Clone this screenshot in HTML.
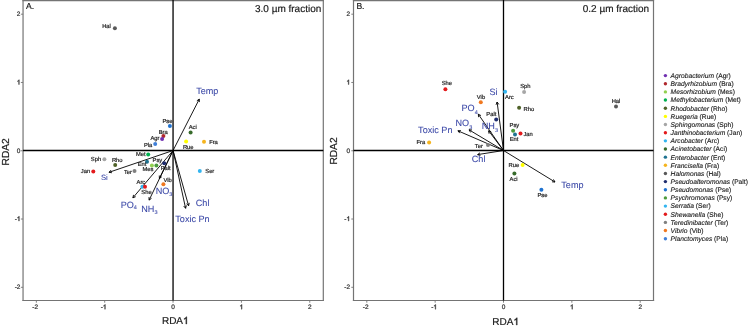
<!DOCTYPE html>
<html><head><meta charset="utf-8"><style>
html,body{margin:0;padding:0;background:#fff;}
body{width:748px;height:326px;overflow:hidden;font-family:"Liberation Sans", sans-serif;}
svg{display:block;will-change:transform;}
</style></head><body>
<svg width="748" height="326" viewBox="0 0 748 326" font-family='"Liberation Sans", sans-serif' text-rendering='geometricPrecision'>
<rect width="748" height="326" fill="#fff"/>
<g stroke="#747474" stroke-width="1.2"><line x1="22.45" y1="0.6" x2="323.90000000000003" y2="0.6"/><line x1="22.45" y1="300.5" x2="323.90000000000003" y2="300.5"/><line x1="23.05" y1="0" x2="23.05" y2="301.1"/><line x1="323.3" y1="0" x2="323.3" y2="301.1"/></g>
<line x1="20.85" y1="287.31" x2="23.05" y2="287.31" stroke="#747474" stroke-width="0.9"/>
<text x="14.670" y="289.310" font-size="6.5" fill="#333" stroke="#333" stroke-width="0.22">-</text><text x="16.835" y="289.310" font-size="6.5" fill="#333" stroke="#333" stroke-width="0.22">2</text>
<line x1="36.35" y1="300.5" x2="36.35" y2="302.7" stroke="#747474" stroke-width="0.9"/>
<text x="32.360" y="309.200" font-size="6.5" fill="#333" stroke="#333" stroke-width="0.22">-</text><text x="34.525" y="309.200" font-size="6.5" fill="#333" stroke="#333" stroke-width="0.22">2</text>
<line x1="20.85" y1="219.03" x2="23.05" y2="219.03" stroke="#747474" stroke-width="0.9"/>
<text x="14.670" y="221.030" font-size="6.5" fill="#333" stroke="#333" stroke-width="0.22">-</text><path d="M763 0L583 0L583 1147Q518 1085 412 1023Q306 961 222 930L222 1104Q373 1175 486 1276Q599 1377 646 1472L763 1472Z" transform="translate(16.835,221.030) scale(0.003174,-0.003174)" fill="#333" stroke="#333" stroke-width="132.3" stroke-linejoin="round"/>
<line x1="104.70" y1="300.5" x2="104.70" y2="302.7" stroke="#747474" stroke-width="0.9"/>
<text x="100.710" y="309.200" font-size="6.5" fill="#333" stroke="#333" stroke-width="0.22">-</text><path d="M763 0L583 0L583 1147Q518 1085 412 1023Q306 961 222 930L222 1104Q373 1175 486 1276Q599 1377 646 1472L763 1472Z" transform="translate(102.875,309.200) scale(0.003174,-0.003174)" fill="#333" stroke="#333" stroke-width="132.3" stroke-linejoin="round"/>
<line x1="20.85" y1="150.75" x2="23.05" y2="150.75" stroke="#747474" stroke-width="0.9"/>
<text x="16.835" y="152.750" font-size="6.5" fill="#333" stroke="#333" stroke-width="0.22">0</text>
<line x1="173.05" y1="300.5" x2="173.05" y2="302.7" stroke="#747474" stroke-width="0.9"/>
<text x="171.243" y="309.200" font-size="6.5" fill="#333" stroke="#333" stroke-width="0.22">0</text>
<line x1="20.85" y1="82.47" x2="23.05" y2="82.47" stroke="#747474" stroke-width="0.9"/>
<path d="M763 0L583 0L583 1147Q518 1085 412 1023Q306 961 222 930L222 1104Q373 1175 486 1276Q599 1377 646 1472L763 1472Z" transform="translate(16.835,84.470) scale(0.003174,-0.003174)" fill="#333" stroke="#333" stroke-width="132.3" stroke-linejoin="round"/>
<line x1="241.40" y1="300.5" x2="241.40" y2="302.7" stroke="#747474" stroke-width="0.9"/>
<path d="M763 0L583 0L583 1147Q518 1085 412 1023Q306 961 222 930L222 1104Q373 1175 486 1276Q599 1377 646 1472L763 1472Z" transform="translate(239.593,309.200) scale(0.003174,-0.003174)" fill="#333" stroke="#333" stroke-width="132.3" stroke-linejoin="round"/>
<line x1="20.85" y1="14.19" x2="23.05" y2="14.19" stroke="#747474" stroke-width="0.9"/>
<text x="16.835" y="16.190" font-size="6.5" fill="#333" stroke="#333" stroke-width="0.22">2</text>
<line x1="309.75" y1="300.5" x2="309.75" y2="302.7" stroke="#747474" stroke-width="0.9"/>
<text x="307.943" y="309.200" font-size="6.5" fill="#333" stroke="#333" stroke-width="0.22">2</text>
<line x1="173.05" y1="0" x2="173.05" y2="300.5" stroke="#000" stroke-width="1.3"/>
<line x1="23.05" y1="150.5" x2="323.3" y2="150.5" stroke="#000" stroke-width="1.4"/>
<g stroke="#000" stroke-width="0.9" fill="none">
<line x1="173.05" y1="150.5" x2="199.30" y2="99.10"/><polyline points="199.35,102.10 199.30,99.10 196.84,100.82"/>
<line x1="173.05" y1="150.5" x2="109.00" y2="172.30"/><polyline points="111.05,170.11 109.00,172.30 111.96,172.78"/>
<line x1="173.05" y1="150.5" x2="132.90" y2="197.80"/><polyline points="133.54,194.87 132.90,197.80 135.69,196.69"/>
<line x1="173.05" y1="150.5" x2="149.10" y2="200.10"/><polyline points="148.98,197.10 149.10,200.10 151.52,198.33"/>
<line x1="173.05" y1="150.5" x2="159.40" y2="178.50"/><polyline points="159.29,175.50 159.40,178.50 161.83,176.74"/>
<line x1="173.05" y1="150.5" x2="188.60" y2="205.80"/><polyline points="186.53,203.63 188.60,205.80 189.24,202.87"/>
<line x1="173.05" y1="150.5" x2="185.60" y2="208.30"/><polyline points="183.66,206.01 185.60,208.30 186.41,205.41"/>
</g>
<circle cx="114.9" cy="28.3" r="2.0" fill="#595959"/>
<text x="106.5" y="28.0" font-size="5.8" text-anchor="middle" fill="#222" stroke="#222" stroke-width="0.2">Hal</text>
<circle cx="169.9" cy="126.0" r="2.0" fill="#1f72d0"/>
<text x="167.5" y="123.0" font-size="5.8" text-anchor="middle" fill="#222" stroke="#222" stroke-width="0.2">Pse</text>
<circle cx="163.4" cy="136.1" r="2.0" fill="#b0282e"/>
<text x="163.2" y="133.5" font-size="5.8" text-anchor="middle" fill="#222" stroke="#222" stroke-width="0.2">Bra</text>
<circle cx="162.1" cy="138.9" r="2.0" fill="#7030b0"/>
<text x="154.9" y="139.7" font-size="5.8" text-anchor="middle" fill="#222" stroke="#222" stroke-width="0.2">Agr</text>
<circle cx="155.2" cy="144.0" r="2.0" fill="#3f7fd8"/>
<text x="148.1" y="147.0" font-size="5.8" text-anchor="middle" fill="#222" stroke="#222" stroke-width="0.2">Pla</text>
<circle cx="148.2" cy="154.6" r="2.0" fill="#00b050"/>
<text x="140.8" y="156.1" font-size="5.8" text-anchor="middle" fill="#222" stroke="#222" stroke-width="0.2">Met</text>
<circle cx="147.0" cy="161.7" r="2.0" fill="#1f7391"/>
<text x="142.1" y="166.1" font-size="5.8" text-anchor="middle" fill="#222" stroke="#222" stroke-width="0.2">Ent</text>
<circle cx="156.4" cy="165.5" r="2.0" fill="#4c9a3c"/>
<text x="157.4" y="162.1" font-size="5.8" text-anchor="middle" fill="#222" stroke="#222" stroke-width="0.2">Psy</text>
<circle cx="164.2" cy="163.2" r="2.0" fill="#1f2d6e"/>
<text x="165.7" y="170.1" font-size="5.8" text-anchor="middle" fill="#222" stroke="#222" stroke-width="0.2">Palt</text>
<circle cx="151.9" cy="165.6" r="2.0" fill="#92d050"/>
<text x="148.0" y="171.1" font-size="5.8" text-anchor="middle" fill="#222" stroke="#222" stroke-width="0.2">Mes</text>
<circle cx="134.5" cy="171.1" r="2.0" fill="#808080"/>
<text x="128.0" y="173.6" font-size="5.8" text-anchor="middle" fill="#222" stroke="#222" stroke-width="0.2">Ter</text>
<circle cx="104.4" cy="159.3" r="2.0" fill="#a6a6a6"/>
<text x="96.0" y="161.4" font-size="5.8" text-anchor="middle" fill="#222" stroke="#222" stroke-width="0.2">Sph</text>
<circle cx="115.2" cy="165.0" r="2.0" fill="#4f6228"/>
<text x="117.2" y="162.1" font-size="5.8" text-anchor="middle" fill="#222" stroke="#222" stroke-width="0.2">Rho</text>
<circle cx="93.3" cy="171.5" r="2.0" fill="#e31a1c"/>
<text x="85.5" y="173.4" font-size="5.8" text-anchor="middle" fill="#222" stroke="#222" stroke-width="0.2">Jan</text>
<circle cx="142.4" cy="186.7" r="2.0" fill="#33b5f0"/>
<text x="140.9" y="183.8" font-size="5.8" text-anchor="middle" fill="#222" stroke="#222" stroke-width="0.2">Arc</text>
<circle cx="145.0" cy="186.7" r="2.0" fill="#e31a1c"/>
<text x="146.5" y="194.1" font-size="5.8" text-anchor="middle" fill="#222" stroke="#222" stroke-width="0.2">She</text>
<circle cx="163.4" cy="184.3" r="2.0" fill="#f07820"/>
<text x="167.6" y="182.2" font-size="5.8" text-anchor="middle" fill="#222" stroke="#222" stroke-width="0.2">Vib</text>
<circle cx="190.6" cy="132.4" r="2.0" fill="#376b2b"/>
<text x="192.7" y="129.1" font-size="5.8" text-anchor="middle" fill="#222" stroke="#222" stroke-width="0.2">Aci</text>
<circle cx="186.1" cy="141.6" r="2.0" fill="#ffff00"/>
<text x="188.2" y="149.1" font-size="5.8" text-anchor="middle" fill="#222" stroke="#222" stroke-width="0.2">Rue</text>
<circle cx="204.0" cy="141.8" r="2.0" fill="#f5b41e"/>
<text x="213.5" y="143.7" font-size="5.8" text-anchor="middle" fill="#222" stroke="#222" stroke-width="0.2">Fra</text>
<circle cx="199.8" cy="171.1" r="2.0" fill="#33b5f0"/>
<text x="209.8" y="173.3" font-size="5.8" text-anchor="middle" fill="#222" stroke="#222" stroke-width="0.2">Ser</text>
<text x="196.2" y="94.0" font-size="9.1" text-anchor="start" fill="#3d4aa8" stroke="#3d4aa8" stroke-width="0.08">Temp</text>
<text x="100.9" y="179.8" font-size="7.7" text-anchor="start" fill="#3d4aa8" stroke="#3d4aa8" stroke-width="0.08">Si</text>
<text x="120.7" y="208.1" font-size="9.1" fill="#3d4aa8" stroke="#3d4aa8" stroke-width="0.08">PO<tspan font-size="5.5" dy="1.2">4</tspan></text>
<text x="141.3" y="211.6" font-size="9.1" fill="#3d4aa8" stroke="#3d4aa8" stroke-width="0.08">NH<tspan font-size="5.5" dy="2">3</tspan></text>
<text x="155.7" y="194.2" font-size="9.1" fill="#3d4aa8" stroke="#3d4aa8" stroke-width="0.08">NO<tspan font-size="5.5" dy="2">3</tspan></text>
<text x="195.8" y="205.6" font-size="9.1" text-anchor="start" fill="#3d4aa8" stroke="#3d4aa8" stroke-width="0.08">Chl</text>
<text x="175.3" y="221.6" font-size="9.1" text-anchor="start" fill="#3d4aa8" stroke="#3d4aa8" stroke-width="0.08">Toxic Pn</text>
<text x="25.95" y="9.0" font-size="8.6" text-anchor="start" fill="#1a1a1a" stroke="#1a1a1a" stroke-width="0.18">A.</text>
<text x="321.3" y="11.7" font-size="10" text-anchor="end" fill="#1a1a1a" stroke="#1a1a1a" stroke-width="0.18">3.0 µm fraction</text>
<text x="161.913" y="324.000" font-size="10" fill="#1a1a1a" stroke="#1a1a1a" stroke-width="0.18">R</text><text x="169.134" y="324.000" font-size="10" fill="#1a1a1a" stroke="#1a1a1a" stroke-width="0.18">D</text><text x="176.356" y="324.000" font-size="10" fill="#1a1a1a" stroke="#1a1a1a" stroke-width="0.18">A</text><path d="M763 0L583 0L583 1147Q518 1085 412 1023Q306 961 222 930L222 1104Q373 1175 486 1276Q599 1377 646 1472L763 1472Z" transform="translate(183.026,324.000) scale(0.004883,-0.004883)" fill="#1a1a1a" stroke="#1a1a1a" stroke-width="77.8" stroke-linejoin="round"/>
<text transform="translate(8.6,151.8) rotate(-90)" font-size="10.2" text-anchor="middle" fill="#1a1a1a" stroke="#1a1a1a" stroke-width="0.18">RDA2</text>
<g stroke="#747474" stroke-width="1.2"><line x1="352.9" y1="0.6" x2="654.1" y2="0.6"/><line x1="352.9" y1="300.5" x2="654.1" y2="300.5"/><line x1="353.5" y1="0" x2="353.5" y2="301.1"/><line x1="653.5" y1="0" x2="653.5" y2="301.1"/></g>
<line x1="351.3" y1="287.31" x2="353.5" y2="287.31" stroke="#747474" stroke-width="0.9"/>
<text x="344.320" y="289.310" font-size="6.5" fill="#333" stroke="#333" stroke-width="0.22">-</text><text x="346.485" y="289.310" font-size="6.5" fill="#333" stroke="#333" stroke-width="0.22">2</text>
<line x1="366.80" y1="300.5" x2="366.80" y2="302.7" stroke="#747474" stroke-width="0.9"/>
<text x="362.810" y="309.200" font-size="6.5" fill="#333" stroke="#333" stroke-width="0.22">-</text><text x="364.975" y="309.200" font-size="6.5" fill="#333" stroke="#333" stroke-width="0.22">2</text>
<line x1="351.3" y1="219.03" x2="353.5" y2="219.03" stroke="#747474" stroke-width="0.9"/>
<text x="344.320" y="221.030" font-size="6.5" fill="#333" stroke="#333" stroke-width="0.22">-</text><path d="M763 0L583 0L583 1147Q518 1085 412 1023Q306 961 222 930L222 1104Q373 1175 486 1276Q599 1377 646 1472L763 1472Z" transform="translate(346.485,221.030) scale(0.003174,-0.003174)" fill="#333" stroke="#333" stroke-width="132.3" stroke-linejoin="round"/>
<line x1="435.15" y1="300.5" x2="435.15" y2="302.7" stroke="#747474" stroke-width="0.9"/>
<text x="431.160" y="309.200" font-size="6.5" fill="#333" stroke="#333" stroke-width="0.22">-</text><path d="M763 0L583 0L583 1147Q518 1085 412 1023Q306 961 222 930L222 1104Q373 1175 486 1276Q599 1377 646 1472L763 1472Z" transform="translate(433.325,309.200) scale(0.003174,-0.003174)" fill="#333" stroke="#333" stroke-width="132.3" stroke-linejoin="round"/>
<line x1="351.3" y1="150.75" x2="353.5" y2="150.75" stroke="#747474" stroke-width="0.9"/>
<text x="346.485" y="152.750" font-size="6.5" fill="#333" stroke="#333" stroke-width="0.22">0</text>
<line x1="503.50" y1="300.5" x2="503.50" y2="302.7" stroke="#747474" stroke-width="0.9"/>
<text x="501.693" y="309.200" font-size="6.5" fill="#333" stroke="#333" stroke-width="0.22">0</text>
<line x1="351.3" y1="82.47" x2="353.5" y2="82.47" stroke="#747474" stroke-width="0.9"/>
<path d="M763 0L583 0L583 1147Q518 1085 412 1023Q306 961 222 930L222 1104Q373 1175 486 1276Q599 1377 646 1472L763 1472Z" transform="translate(346.485,84.470) scale(0.003174,-0.003174)" fill="#333" stroke="#333" stroke-width="132.3" stroke-linejoin="round"/>
<line x1="571.85" y1="300.5" x2="571.85" y2="302.7" stroke="#747474" stroke-width="0.9"/>
<path d="M763 0L583 0L583 1147Q518 1085 412 1023Q306 961 222 930L222 1104Q373 1175 486 1276Q599 1377 646 1472L763 1472Z" transform="translate(570.043,309.200) scale(0.003174,-0.003174)" fill="#333" stroke="#333" stroke-width="132.3" stroke-linejoin="round"/>
<line x1="351.3" y1="14.19" x2="353.5" y2="14.19" stroke="#747474" stroke-width="0.9"/>
<text x="346.485" y="16.190" font-size="6.5" fill="#333" stroke="#333" stroke-width="0.22">2</text>
<line x1="640.20" y1="300.5" x2="640.20" y2="302.7" stroke="#747474" stroke-width="0.9"/>
<text x="638.393" y="309.200" font-size="6.5" fill="#333" stroke="#333" stroke-width="0.22">2</text>
<line x1="503.5" y1="0" x2="503.5" y2="300.5" stroke="#000" stroke-width="1.3"/>
<line x1="353.5" y1="150.5" x2="653.5" y2="150.5" stroke="#000" stroke-width="1.4"/>
<g stroke="#000" stroke-width="0.9" fill="none">
<line x1="503.5" y1="150.5" x2="497.10" y2="102.00"/><polyline points="498.84,104.44 497.10,102.00 496.05,104.81"/>
<line x1="503.5" y1="150.5" x2="478.30" y2="114.20"/><polyline points="480.97,115.57 478.30,114.20 478.65,117.18"/>
<line x1="503.5" y1="150.5" x2="488.60" y2="130.80"/><polyline points="491.32,132.06 488.60,130.80 489.07,133.76"/>
<line x1="503.5" y1="150.5" x2="469.00" y2="129.80"/><polyline points="472.00,129.96 469.00,129.80 470.55,132.37"/>
<line x1="503.5" y1="150.5" x2="457.90" y2="130.80"/><polyline points="460.89,130.56 457.90,130.80 459.77,133.14"/>
<line x1="503.5" y1="150.5" x2="477.60" y2="154.60"/><polyline points="480.00,152.79 477.60,154.60 480.44,155.58"/>
<line x1="503.5" y1="150.5" x2="555.00" y2="182.00"/><polyline points="552.01,181.82 555.00,182.00 553.48,179.42"/>
</g>
<circle cx="445.4" cy="89.3" r="2.0" fill="#e31a1c"/>
<text x="446.8" y="84.6" font-size="5.8" text-anchor="middle" fill="#222" stroke="#222" stroke-width="0.2">She</text>
<circle cx="505.1" cy="91.7" r="2.0" fill="#33b5f0"/>
<text x="509.4" y="98.9" font-size="5.8" text-anchor="middle" fill="#222" stroke="#222" stroke-width="0.2">Arc</text>
<circle cx="524.1" cy="92.1" r="2.0" fill="#a6a6a6"/>
<text x="525.3" y="88.1" font-size="5.8" text-anchor="middle" fill="#222" stroke="#222" stroke-width="0.2">Sph</text>
<circle cx="480.8" cy="102.2" r="2.0" fill="#f07820"/>
<text x="481.0" y="99.1" font-size="5.8" text-anchor="middle" fill="#222" stroke="#222" stroke-width="0.2">Vib</text>
<circle cx="519.1" cy="107.8" r="2.0" fill="#4f6228"/>
<text x="528.9" y="110.8" font-size="5.8" text-anchor="middle" fill="#222" stroke="#222" stroke-width="0.2">Rho</text>
<circle cx="496.2" cy="119.4" r="2.0" fill="#1f2d6e"/>
<text x="491.3" y="116.1" font-size="5.8" text-anchor="middle" fill="#222" stroke="#222" stroke-width="0.2">Palt</text>
<circle cx="513.1" cy="130.7" r="2.0" fill="#4c9a3c"/>
<text x="514.4" y="126.7" font-size="5.8" text-anchor="middle" fill="#222" stroke="#222" stroke-width="0.2">Psy</text>
<circle cx="520.5" cy="133.6" r="2.0" fill="#e31a1c"/>
<text x="528.1" y="135.8" font-size="5.8" text-anchor="middle" fill="#222" stroke="#222" stroke-width="0.2">Jan</text>
<circle cx="515.0" cy="134.4" r="2.0" fill="#1f7391"/>
<text x="514.0" y="141.2" font-size="5.8" text-anchor="middle" fill="#222" stroke="#222" stroke-width="0.2">Ent</text>
<circle cx="429.1" cy="142.5" r="2.0" fill="#f5b41e"/>
<text x="420.9" y="143.7" font-size="5.8" text-anchor="middle" fill="#222" stroke="#222" stroke-width="0.2">Fra</text>
<circle cx="488.0" cy="145.0" r="2.0" fill="#808080"/>
<text x="478.8" y="147.8" font-size="5.8" text-anchor="middle" fill="#222" stroke="#222" stroke-width="0.2">Ter</text>
<circle cx="522.6" cy="165.0" r="2.0" fill="#ffff00"/>
<text x="513.9" y="166.9" font-size="5.8" text-anchor="middle" fill="#222" stroke="#222" stroke-width="0.2">Rue</text>
<circle cx="514.4" cy="173.4" r="2.0" fill="#376b2b"/>
<text x="513.6" y="180.7" font-size="5.8" text-anchor="middle" fill="#222" stroke="#222" stroke-width="0.2">Aci</text>
<circle cx="541.4" cy="189.7" r="2.0" fill="#1f72d0"/>
<text x="542.4" y="197.4" font-size="5.8" text-anchor="middle" fill="#222" stroke="#222" stroke-width="0.2">Pse</text>
<circle cx="616.0" cy="106.4" r="2.0" fill="#595959"/>
<text x="616.0" y="102.7" font-size="5.8" text-anchor="middle" fill="#222" stroke="#222" stroke-width="0.2">Hal</text>
<text x="561.3" y="187.7" font-size="9.1" text-anchor="start" fill="#3d4aa8" stroke="#3d4aa8" stroke-width="0.08">Temp</text>
<text x="489.4" y="95.2" font-size="9.1" text-anchor="start" fill="#3d4aa8" stroke="#3d4aa8" stroke-width="0.08">Si</text>
<text x="461.5" y="110.8" font-size="9.1" fill="#3d4aa8" stroke="#3d4aa8" stroke-width="0.08">PO<tspan font-size="5.5" dy="3.2">4</tspan></text>
<text x="481.8" y="129.4" font-size="9.1" fill="#3d4aa8" stroke="#3d4aa8" stroke-width="0.08">NH<tspan font-size="5.5" dy="3.0">3</tspan></text>
<text x="455.5" y="126.4" font-size="9.1" fill="#3d4aa8" stroke="#3d4aa8" stroke-width="0.08">NO<tspan font-size="5.5" dy="3.0">3</tspan></text>
<text x="471.8" y="162.3" font-size="9.1" text-anchor="start" fill="#3d4aa8" stroke="#3d4aa8" stroke-width="0.08">Chl</text>
<text x="418.1" y="133.0" font-size="9.1" text-anchor="start" fill="#3d4aa8" stroke="#3d4aa8" stroke-width="0.08">Toxic Pn</text>
<text x="356.4" y="9.0" font-size="8.6" text-anchor="start" fill="#1a1a1a" stroke="#1a1a1a" stroke-width="0.18">B.</text>
<text x="649.1" y="11.7" font-size="10" text-anchor="end" fill="#1a1a1a" stroke="#1a1a1a" stroke-width="0.18">0.2 µm fraction</text>
<text x="492.363" y="325.000" font-size="10" fill="#1a1a1a" stroke="#1a1a1a" stroke-width="0.18">R</text><text x="499.584" y="325.000" font-size="10" fill="#1a1a1a" stroke="#1a1a1a" stroke-width="0.18">D</text><text x="506.806" y="325.000" font-size="10" fill="#1a1a1a" stroke="#1a1a1a" stroke-width="0.18">A</text><path d="M763 0L583 0L583 1147Q518 1085 412 1023Q306 961 222 930L222 1104Q373 1175 486 1276Q599 1377 646 1472L763 1472Z" transform="translate(513.476,325.000) scale(0.004883,-0.004883)" fill="#1a1a1a" stroke="#1a1a1a" stroke-width="77.8" stroke-linejoin="round"/>
<text transform="translate(336.6,151.0) rotate(-90)" font-size="10.2" text-anchor="middle" fill="#1a1a1a" stroke="#1a1a1a" stroke-width="0.18">RDA2</text>
<circle cx="665.4" cy="75.60" r="1.7" fill="#7030b0"/>
<text x="670.6" y="78.00" font-size="6.7" fill="#1a1a1a" stroke="#1a1a1a" stroke-width="0.12"><tspan font-style="italic">Agrobacterium</tspan> (Agr)</text>
<circle cx="665.4" cy="83.75" r="1.7" fill="#b0282e"/>
<text x="670.6" y="86.16" font-size="6.7" fill="#1a1a1a" stroke="#1a1a1a" stroke-width="0.12"><tspan font-style="italic">Bradyrhizobium</tspan> (Bra)</text>
<circle cx="665.4" cy="91.91" r="1.7" fill="#92d050"/>
<text x="670.6" y="94.31" font-size="6.7" fill="#1a1a1a" stroke="#1a1a1a" stroke-width="0.12"><tspan font-style="italic">Mesorhizobium</tspan> (Mes)</text>
<circle cx="665.4" cy="100.06" r="1.7" fill="#00b050"/>
<text x="670.6" y="102.47" font-size="6.7" fill="#1a1a1a" stroke="#1a1a1a" stroke-width="0.12"><tspan font-style="italic">Methylobacterium</tspan> (Met)</text>
<circle cx="665.4" cy="108.22" r="1.7" fill="#4f6228"/>
<text x="670.6" y="110.62" font-size="6.7" fill="#1a1a1a" stroke="#1a1a1a" stroke-width="0.12"><tspan font-style="italic">Rhodobacter</tspan> (Rho)</text>
<circle cx="665.4" cy="116.38" r="1.7" fill="#ffff00"/>
<text x="670.6" y="118.78" font-size="6.7" fill="#1a1a1a" stroke="#1a1a1a" stroke-width="0.12"><tspan font-style="italic">Ruegeria</tspan> (Rue)</text>
<circle cx="665.4" cy="124.53" r="1.7" fill="#a6a6a6"/>
<text x="670.6" y="126.93" font-size="6.7" fill="#1a1a1a" stroke="#1a1a1a" stroke-width="0.12"><tspan font-style="italic">Sphingomonas</tspan> (Sph)</text>
<circle cx="665.4" cy="132.69" r="1.7" fill="#e31a1c"/>
<text x="670.6" y="135.09" font-size="6.7" fill="#1a1a1a" stroke="#1a1a1a" stroke-width="0.12"><tspan font-style="italic">Janthinobacterium</tspan> (Jan)</text>
<circle cx="665.4" cy="140.84" r="1.7" fill="#33b5f0"/>
<text x="670.6" y="143.24" font-size="6.7" fill="#1a1a1a" stroke="#1a1a1a" stroke-width="0.12"><tspan font-style="italic">Arcobacter</tspan> (Arc)</text>
<circle cx="665.4" cy="149.00" r="1.7" fill="#376b2b"/>
<text x="670.6" y="151.40" font-size="6.7" fill="#1a1a1a" stroke="#1a1a1a" stroke-width="0.12"><tspan font-style="italic">Acinetobacter</tspan> (Aci)</text>
<circle cx="665.4" cy="157.15" r="1.7" fill="#1f7391"/>
<text x="670.6" y="159.55" font-size="6.7" fill="#1a1a1a" stroke="#1a1a1a" stroke-width="0.12"><tspan font-style="italic">Enterobacter</tspan> (Ent)</text>
<circle cx="665.4" cy="165.31" r="1.7" fill="#f5b41e"/>
<text x="670.6" y="167.71" font-size="6.7" fill="#1a1a1a" stroke="#1a1a1a" stroke-width="0.12"><tspan font-style="italic">Francisella</tspan> (Fra)</text>
<circle cx="665.4" cy="173.46" r="1.7" fill="#595959"/>
<text x="670.6" y="175.86" font-size="6.7" fill="#1a1a1a" stroke="#1a1a1a" stroke-width="0.12"><tspan font-style="italic">Halomonas</tspan> (Hal)</text>
<circle cx="665.4" cy="181.61" r="1.7" fill="#1f2d6e"/>
<text x="670.6" y="184.01" font-size="6.7" fill="#1a1a1a" stroke="#1a1a1a" stroke-width="0.12"><tspan font-style="italic">Pseudoalteromonas</tspan> (Palt)</text>
<circle cx="665.4" cy="189.77" r="1.7" fill="#1f72d0"/>
<text x="670.6" y="192.17" font-size="6.7" fill="#1a1a1a" stroke="#1a1a1a" stroke-width="0.12"><tspan font-style="italic">Pseudomonas</tspan> (Pse)</text>
<circle cx="665.4" cy="197.92" r="1.7" fill="#4c9a3c"/>
<text x="670.6" y="200.32" font-size="6.7" fill="#1a1a1a" stroke="#1a1a1a" stroke-width="0.12"><tspan font-style="italic">Psychromonas</tspan> (Psy)</text>
<circle cx="665.4" cy="206.08" r="1.7" fill="#33b5f0"/>
<text x="670.6" y="208.48" font-size="6.7" fill="#1a1a1a" stroke="#1a1a1a" stroke-width="0.12"><tspan font-style="italic">Serratia</tspan> (Ser)</text>
<circle cx="665.4" cy="214.23" r="1.7" fill="#e31a1c"/>
<text x="670.6" y="216.63" font-size="6.7" fill="#1a1a1a" stroke="#1a1a1a" stroke-width="0.12"><tspan font-style="italic">Shewanella</tspan> (She)</text>
<circle cx="665.4" cy="222.39" r="1.7" fill="#808080"/>
<text x="670.6" y="224.79" font-size="6.7" fill="#1a1a1a" stroke="#1a1a1a" stroke-width="0.12"><tspan font-style="italic">Teredinibacter</tspan> (Ter)</text>
<circle cx="665.4" cy="230.54" r="1.7" fill="#f07820"/>
<text x="670.6" y="232.94" font-size="6.7" fill="#1a1a1a" stroke="#1a1a1a" stroke-width="0.12"><tspan font-style="italic">Vibrio</tspan> (Vib)</text>
<circle cx="665.4" cy="238.70" r="1.7" fill="#3f7fd8"/>
<text x="670.6" y="241.10" font-size="6.7" fill="#1a1a1a" stroke="#1a1a1a" stroke-width="0.12"><tspan font-style="italic">Planctomyces</tspan> (Pla)</text>
</svg>
</body></html>
